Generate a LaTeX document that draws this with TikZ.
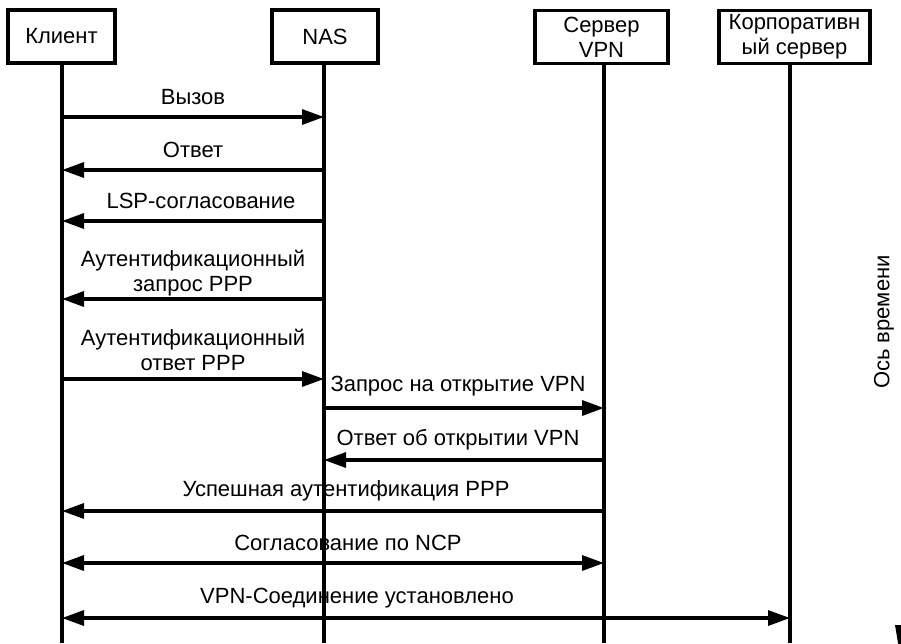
\documentclass[tikz,border=0pt]{standalone}
\usepackage{fontspec}
\setmainfont{Liberation Sans}
\usetikzlibrary{arrows.meta}

\begin{document}
\begin{tikzpicture}[x=1pt,y=-1pt,
  every node/.style={font=\fontsize{22}{25}\selectfont, inner sep=0pt},
  party/.style={draw, line width=3.3pt, minimum height=53pt, align=center},
  lifeline/.style={line width=3.3pt},
  msg/.style={line width=3.3pt, -{Triangle[length=22pt,width=15pt]}},
  duplex/.style={line width=3.3pt, {Triangle[length=22pt,width=15pt]}-{Triangle[length=22pt,width=15pt]}},
  lbl/.style={align=center}]
  \useasboundingbox (0,0) rectangle (901,643);
  \clip (0,0) rectangle (901,643);

  % parties
  \node[party, minimum width=107pt] (client) at (61.5,36.5) {Клиент};
  \node[party, minimum width=106pt] (nas)    at (325,36.5)  {NAS};
  \node[party, minimum width=133pt] (vpn)    at (601.5,37)  {Сервер\\VPN};
  \node[party, minimum width=151pt] (corp)   at (794.5,37)  {Корпоративн\\ый сервер};

  % lifeline ends at the bottom edge
  \coordinate (cB) at (62,643);
  \coordinate (nB) at (324,643);
  \coordinate (vB) at (604,643);
  \coordinate (kB) at (790,643);
  \draw[lifeline] (client.south -| cB) -- (cB);
  \draw[lifeline] (nas.south -| nB) -- (nB);
  \draw[lifeline] (vpn.south -| vB) -- (vB);
  \draw[lifeline] (corp.south -| kB) -- (kB);

  % messages
  \draw[msg] (cB |- 0,117) -- (nB |- 0,117);
  \node[lbl] (l1) at (193,97) {Вызов};

  \draw[msg] (nB |- 0,170) -- (cB |- 0,170);
  \node[lbl] (l2) at (193,150) {Ответ};

  \draw[msg] (nB |- 0,221) -- (cB |- 0,221);
  \node[lbl] (l3) at (201,201) {LSP-согласование};

  \draw[msg] (nB |- 0,299) -- (cB |- 0,299);
  \node[lbl] (l4) at (193,273) {Аутентификационный\\запрос PPP};

  \draw[msg] (cB |- 0,379) -- (nB |- 0,379);
  \node[lbl] (l5) at (193,350) {Аутентификационный\\ответ PPP};

  \draw[msg] (nB |- 0,408) -- (vB |- 0,408);
  \node[lbl] (l6) at (458,386) {Запрос на открытие VPN};

  \draw[msg] (vB |- 0,460) -- (nB |- 0,460);
  \node[lbl] (l7) at (458,440) {Ответ об открытии VPN};

  \draw[msg] (vB |- 0,511) -- (cB |- 0,511);
  \node[lbl] (l8) at (346,491) {Успешная аутентификация PPP};

  \draw[duplex] (cB |- 0,563) -- (vB |- 0,563);
  \node[lbl] (l9) at (348,543) {Согласование по NCP};

  \draw[duplex] (cB |- 0,618) -- (kB |- 0,618);
  \node[lbl] (l10) at (357,598) {VPN-Соединение установлено};

  % time axis
  \node[rotate=90] (axis) at (884,322) {Ось времени};
  \fill (895,625) -- (909,625) -- (902,667) -- cycle;
\end{tikzpicture}
\end{document}
